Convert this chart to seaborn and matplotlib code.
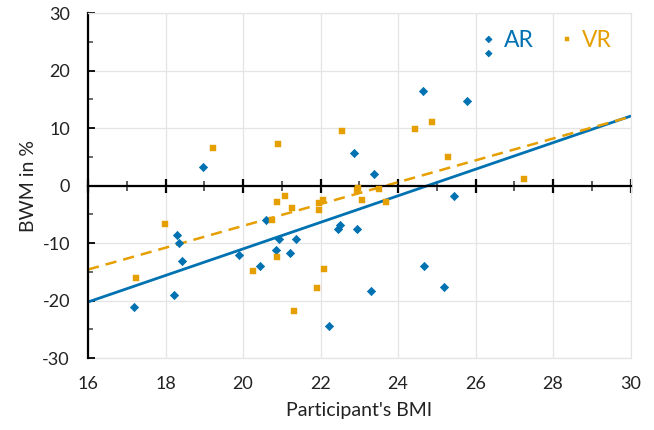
import matplotlib
matplotlib.use("Agg")
import matplotlib.pyplot as plt
import seaborn as sns
from matplotlib.legend_handler import HandlerPathCollection
from matplotlib.ticker import MultipleLocator

# AR group: BMI vs body weight misperception (%)
ar_bmi = [18.97, 17.18, 18.21, 18.30, 18.36, 18.43, 19.90, 20.45, 20.59, 20.85,
          20.93, 21.20, 21.36, 22.45, 22.49, 22.93, 22.21, 23.31, 23.37, 24.68,
          25.18, 25.44, 22.87, 24.64, 25.79]
ar_bwm = [3.3, -21.1, -19.1, -8.55, -10.05, -13.1, -12.0, -14.0, -6.0, -11.2,
          -9.35, -11.8, -9.25, -7.6, -6.9, -7.6, -24.5, -18.3, 2.0, -14.0,
          -17.7, -1.85, 5.6, 16.5, 14.8]

# VR group
vr_bmi = [19.23, 20.89, 17.23, 17.99, 20.26, 20.75, 20.87, 20.87, 21.09, 21.27,
          21.32, 21.92, 22.10, 21.95, 21.95, 22.07, 22.93, 22.98, 23.06, 23.52,
          23.70, 22.55, 24.45, 24.88, 25.30, 27.24]
vr_bwm = [6.5, 7.3, -16.05, -6.7, -14.8, -6.0, -2.8, -12.5, -1.85, -3.9,
          -21.9, -17.9, -14.5, -3.1, -4.3, -2.5, -0.75, -0.45, -2.55, -0.6,
          -2.8, 9.55, 9.85, 11.05, 5.05, 1.15]

# trend lines (as shown in the chart)
trend_bmi = [16, 30]
ar_trend = [-20.25, 12.1]
vr_trend = [-14.6, 12.0]

x_ticks = list(range(16, 31, 2))
y_ticks = list(range(-30, 31, 10))

AR_COLOR = "#0072B2"
VR_COLOR = "#E69F00"
GRID = "#E4E4E4"


class StackedMarkers(HandlerPathCollection):
    # legend markers stacked vertically instead of side by side
    def get_xdata(self, legend, xdescent, ydescent, width, height, fontsize):
        x = [-xdescent + 0.5 * width] * self.get_numpoints(legend)
        return x, x


sns.set_style("white")
plt.rcParams["font.family"] = ["Lato", "DejaVu Sans"]
plt.rcParams["axes.unicode_minus"] = False

fig = plt.figure(figsize=(6.54, 4.30), dpi=100)
ax = fig.add_axes([0.1346, 0.1674, 0.8295, 0.8017])

sns.lineplot(x=trend_bmi, y=ar_trend, color=AR_COLOR, lw=2.0, ax=ax, zorder=2)
sns.lineplot(x=trend_bmi, y=vr_trend, color=VR_COLOR, lw=1.8,
             linestyle=(0, (4.5, 2.8)), ax=ax, zorder=2)

sns.scatterplot(x=ar_bmi, y=ar_bwm, marker="D", s=17, color=AR_COLOR,
                edgecolor=AR_COLOR, linewidth=0.6, label="AR", ax=ax, zorder=3)
sns.scatterplot(x=vr_bmi, y=vr_bwm, marker="s", s=17, color=VR_COLOR,
                edgecolor=VR_COLOR, linewidth=0.3, label="VR", ax=ax, zorder=3)

ax.set_xlim(16, 30)
ax.set_ylim(-30, 30)
ax.set_xticks(x_ticks)
ax.set_yticks(y_ticks)
ax.xaxis.set_minor_locator(MultipleLocator(1))
ax.yaxis.set_minor_locator(MultipleLocator(5))
ax.grid(True, which="major", color=GRID, lw=0.9, zorder=0)
ax.set_axisbelow(True)

for side in ["top", "right"]:
    ax.spines[side].set_color(GRID)
    ax.spines[side].set_linewidth(0.9)
ax.spines["left"].set_color("black")
ax.spines["left"].set_linewidth(1.6)
ax.spines["bottom"].set_position(("data", 0))
ax.spines["bottom"].set_color("black")
ax.spines["bottom"].set_linewidth(1.6)
ax.spines["bottom"].set_zorder(2.5)

ax.tick_params(axis="x", which="major", direction="inout", length=10, width=1.6,
               color="black", labelbottom=False, bottom=True)
ax.tick_params(axis="x", which="minor", direction="inout", length=7, width=1.2,
               color="#404040", bottom=True)
ax.tick_params(axis="y", which="major", direction="in", length=5, width=1.3,
               color="black", left=True, labelsize=13, pad=13, labelcolor="#222222")
ax.tick_params(axis="y", which="minor", direction="in", length=3.5, width=1.1,
               color="#404040", left=True)

# tick labels and title for x sit along the bottom edge
sec = ax.secondary_xaxis("bottom")
sec.set_xticks(x_ticks)
sec.spines["bottom"].set_color(GRID)
sec.spines["bottom"].set_linewidth(0.9)
sec.tick_params(axis="x", length=0, pad=13, labelsize=13, labelcolor="#222222")
sec.set_xlabel("Participant's BMI", fontsize=14, color="#222222", labelpad=7)
ax.set_ylabel("BWM in %", fontsize=14, color="#222222", labelpad=4)

handles, labels = ax.get_legend_handles_labels()
leg = ax.legend(handles, labels, loc="upper right", bbox_to_anchor=(1.003, 1.010),
                ncol=2, frameon=False, fontsize=16.5, handlelength=0.5,
                handletextpad=0.4, columnspacing=1.2, markerscale=0.8,
                handler_map={handles[0]: StackedMarkers(numpoints=2, yoffsets=[0.5, -0.38]),
                             handles[1]: HandlerPathCollection(numpoints=1, yoffsets=[0.5])})
for txt, col in zip(leg.get_texts(), [AR_COLOR, VR_COLOR]):
    txt.set_color(col)

plt.savefig("out.png", dpi=100)
